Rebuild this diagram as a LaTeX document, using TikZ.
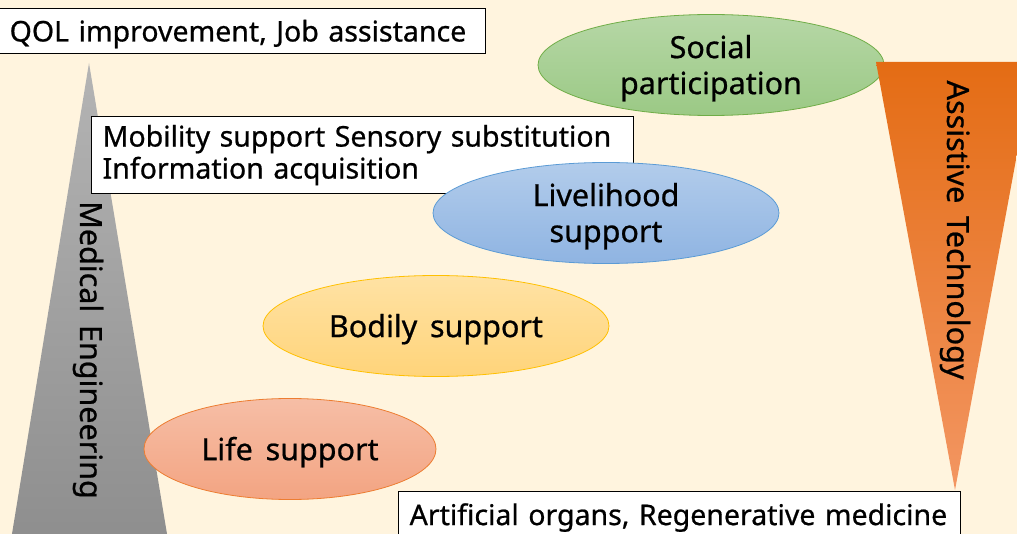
\documentclass[tikz,border=0pt]{standalone}
\usepackage{fontspec}
\setmainfont[WordSpace=1.6, FakeBold=0.7]{Noto Sans}
\usetikzlibrary{shapes.geometric}

\definecolor{cream}{RGB}{255,244,222}
\definecolor{greenline}{RGB}{112,173,71}
\definecolor{blueline}{RGB}{91,155,213}
\definecolor{yellowline}{RGB}{255,192,0}
\definecolor{orangeline}{RGB}{237,125,49}

\begin{document}
\begin{tikzpicture}
[x=1pt,y=-1pt,
bubble/.style={ellipse, minimum width=346pt, minimum height=101pt, align=center, inner sep=0pt, text depth=1pt, font=\fontsize{30.5}{36}\selectfont, line width=0.8pt},
tagbox/.style={draw=black, line width=1.3pt, fill=white, align=left, inner ysep=0pt, font=\fontsize{28.5}{32}\selectfont},
axislabel/.style={rotate=-90, font=\fontsize{30.5}{36}\selectfont}
]
\useasboundingbox (0,0) rectangle (1017,534);
\fill[cream] (0,0) rectangle (1017,534);

% the two pillars
\shade[top color={rgb,255:red,180;green,180;blue,180}, bottom color={rgb,255:red,142;green,142;blue,142}]
    (89,63) -- (168,540) -- (11,540) -- cycle;
\node[axislabel] (medical) at (88,350) {Medical Engineering};

% levels
\node[tagbox, text width=520pt, inner xsep=11pt, minimum height=77pt, anchor=north west] (mobility) at (91,116)
    {Mobility support Sensory substitution\\Information acquisition};
\node[bubble, draw=greenline, top color={rgb,255:red,182;green,215;blue,166}, bottom color={rgb,255:red,155;green,201;blue,133}] (social) at (711,65) {Social\\participation};
\shade[top color={rgb,255:red,228;green,108;blue,20}, bottom color={rgb,255:red,243;green,150;blue,98}]
    (876,62) -- (1034,62) -- (955,490) -- cycle;
\node[axislabel] (assistive) at (955,230) {Assistive Technology};
\node[bubble, draw=blueline, top color={rgb,255:red,178;green,204;blue,235}, bottom color={rgb,255:red,143;green,180;blue,226}] (livelihood) at (606,213) {Livelihood\\support};
\node[bubble, draw=yellowline, top color={rgb,255:red,255;green,226;blue,164}, bottom color={rgb,255:red,255;green,212;blue,122}] (bodily) at (436,326) {Bodily support};
\node[bubble, minimum width=292pt, draw=orangeline, top color={rgb,255:red,246;green,190;blue,166}, bottom color={rgb,255:red,243;green,164;blue,130}] (life) at (290,449) {Life support};

\node[tagbox, text depth=1pt, text width=466pt, inner xsep=10pt, minimum height=45pt, anchor=north west] (qol) at (-1,8)
    {QOL improvement, Job assistance};
\node[tagbox, text depth=1pt, text width=540pt, inner xsep=11pt, minimum height=46pt, anchor=north west] (organs) at (398,491)
    {Artificial organs, Regenerative medicine};
\end{tikzpicture}
\end{document}
